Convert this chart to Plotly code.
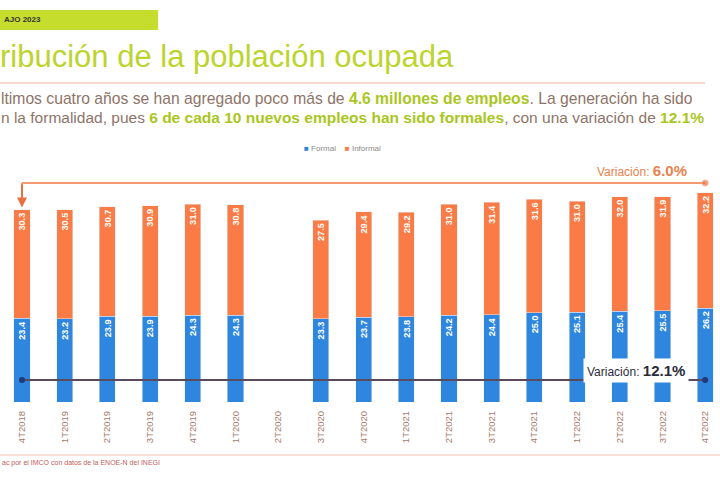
import plotly.graph_objects as go

categories = ["4T2018", "1T2019", "2T2019", "3T2019", "4T2019", "1T2020", "2T2020",
              "3T2020", "4T2020", "1T2021", "2T2021", "3T2021", "4T2021", "1T2022",
              "2T2022", "3T2022", "4T2022"]
formal = [23.4, 23.2, 23.9, 23.9, 24.3, 24.3, None, 23.3, 23.7, 23.8, 24.2, 24.4,
          25.0, 25.1, 25.4, 25.5, 26.2]
informal = [30.3, 30.5, 30.7, 30.9, 31.0, 30.8, None, 27.5, 29.4, 29.2, 31.0, 31.4,
            31.6, 31.0, 32.0, 31.9, 32.2]
var_informal = "6.0%"
var_formal = "12.1%"

W, H = 720, 480
PT, PB = 160, 402  # plot area top/bottom in px
YMAX = (PB - PT) / 3.58

def xp(px):
    return px / W

def yp(py):
    return (PB - py) / (PB - PT)

ORANGE = "#FA7B45"
BLUE = "#2E86DE"
LIME = "#C5DE2E"
TXT = "#8E7468"

fig = go.Figure()
fig.add_trace(go.Bar(
    x=categories, y=formal, name="Formal", marker_color=BLUE,
    texttemplate="<b>%{y:.1f}</b>", textposition="inside", insidetextanchor="end",
    textangle=-90, textfont=dict(color="white", size=11, family="Liberation Sans"),
))
fig.add_trace(go.Bar(
    x=categories, y=informal, name="Informal", marker_color=ORANGE,
    texttemplate="<b>%{y:.1f}</b>", textposition="inside", insidetextanchor="end",
    textangle=-90, textfont=dict(color="white", size=11, family="Liberation Sans"),
))

first, last = categories[0], categories[-1]
y_top_line = (PB - 183) / 3.58
y_bot_line = (PB - 380) / 3.58

fig.add_trace(go.Scatter(
    x=[first, last], y=[y_top_line, y_top_line], mode="lines+markers",
    line=dict(color="#F39A72", width=2), marker=dict(size=[0, 6], color="#E8703F"),
    showlegend=False, hoverinfo="skip"))
fig.add_trace(go.Scatter(
    x=[first, last], y=[y_bot_line, y_bot_line], mode="lines+markers",
    line=dict(color="#5A4A5E", width=2), marker=dict(size=6, color="#1F3A7A"),
    showlegend=False, hoverinfo="skip"))

annotations = [
    dict(x=first, y=formal[0] + informal[0] + 0.6, ax=first, ay=y_top_line,
         xref="x", yref="y", axref="x", ayref="y", showarrow=True, text="",
         arrowhead=2, arrowsize=1, arrowwidth=2, arrowcolor="#E8703F"),
    dict(x=xp(689), y=yp(170), xref="paper", yref="paper", xanchor="right", yanchor="middle",
         text="Variación: <span style='font-size:15px'><b>" + var_informal + "</b></span>",
         showarrow=False, font=dict(color="#E8824E", size=12, family="Liberation Sans")),
    dict(x=xp(636), y=yp(370), xref="paper", yref="paper", xanchor="center", yanchor="middle",
         text="Variación: <span style='font-size:15px'><b>" + var_formal + "</b></span>",
         showarrow=False, font=dict(color="#2B2B3C", size=12, family="Liberation Sans"),
         bgcolor="white", borderpad=3),
    # legend
    dict(x=xp(342), y=yp(148), xref="paper", yref="paper", xanchor="center", yanchor="middle",
         text=(f"<span style='color:{BLUE}'>■</span> Formal &nbsp;&nbsp;&nbsp;"
               f"<span style='color:{ORANGE}'>■</span> Informal"),
         showarrow=False, font=dict(color="#8A8A8A", size=8, family="Liberation Sans")),
    dict(x=xp(2), y=yp(20), xref="paper", yref="paper", xanchor="left", yanchor="middle",
         text="<b>AJO 2023</b>", showarrow=False,
         font=dict(color="#333333", size=8, family="Liberation Sans")),
    dict(x=xp(-2), y=yp(56), xref="paper", yref="paper", xanchor="left", yanchor="middle",
         text="ribución de la población ocupada", showarrow=False,
         font=dict(color="#BCD42E", size=31, family="Liberation Sans")),
    dict(x=xp(-1), y=yp(98), xref="paper", yref="paper", xanchor="left", yanchor="middle",
         text=("ltimos cuatro años se han agregado poco más de "
               "<b><span style='color:#A9C61E'>4.6 millones de empleos</span></b>. "
               "La generación ha sido"),
         showarrow=False, font=dict(color=TXT, size=15.7, family="Liberation Sans")),
    dict(x=xp(-1), y=yp(117), xref="paper", yref="paper", xanchor="left", yanchor="middle",
         text=("n la formalidad, pues "
               "<b><span style='color:#A9C61E'>6 de cada 10 nuevos empleos han sido formales</span></b>"
               ", con una variación de <b><span style='color:#A9C61E'>12.1%</span></b>"),
         showarrow=False, font=dict(color=TXT, size=15.5, family="Liberation Sans")),
    dict(x=xp(0), y=yp(463), xref="paper", yref="paper", xanchor="left", yanchor="middle",
         text="ac por el IMCO con datos de la ENOE-N del INEGI", showarrow=False,
         font=dict(color="#C0605A", size=7, family="Liberation Sans")),
]

shapes = [
    dict(type="rect", xref="paper", yref="paper", x0=xp(0), x1=xp(158), y0=yp(30), y1=yp(10),
         fillcolor=LIME, line=dict(width=0), layer="below"),
    dict(type="line", xref="paper", yref="paper", x0=xp(0), x1=xp(705), y0=yp(83), y1=yp(83),
         line=dict(color="#F6D9CC", width=2)),
    dict(type="line", xref="paper", yref="paper", x0=xp(0), x1=xp(720), y0=yp(455), y1=yp(455),
         line=dict(color="#F8E0D6", width=2)),
    dict(type="line", xref="x", yref="y", x0=first, x1=first, y0=y_top_line,
         y1=formal[0] + informal[0] + 2, line=dict(color="#F39A72", width=2)),
]

fig.update_layout(
    width=W, height=H,
    margin=dict(l=0, r=0, t=PT, b=H - PB),
    paper_bgcolor="white", plot_bgcolor="white",
    barmode="stack", bargap=0.625,
    showlegend=False,
    xaxis=dict(range=[-22 / 42.7, (720 - 22) / 42.7], tickangle=-90,
               tickfont=dict(size=9.5, color="#A57A68", family="Liberation Sans"),
               ticklabelstandoff=6,
               showgrid=False, showline=False, ticks="", fixedrange=True),
    yaxis=dict(range=[0, YMAX], visible=False, showgrid=False),
    annotations=annotations,
    shapes=shapes,
    font=dict(family="Liberation Sans"),
)

fig.write_html("out.html")
